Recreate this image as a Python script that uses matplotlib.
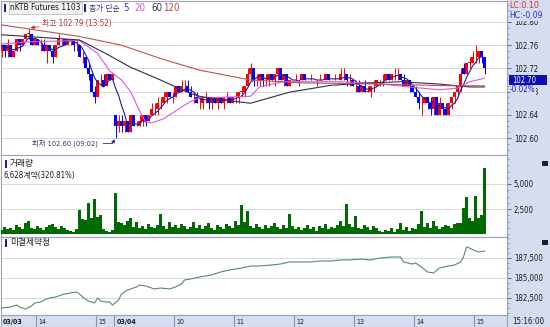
import matplotlib
matplotlib.use("Agg")
import matplotlib.pyplot as plt
from matplotlib import font_manager
from matplotlib.font_manager import FontProperties
from matplotlib.patches import Rectangle
from matplotlib.ticker import AutoMinorLocator
from matplotlib.transforms import blended_transform_factory
import numpy as np
import pandas as pd

W, H = 550, 327

# prices in hundredths above 102.00 (76 -> 102.76), one row of 10 bars per line
# 3-minute bars: 03/03 13:24-15:15 (0-37), 03/04 09:00-15:09 (38-161)
opens = [75, 76, 75, 76, 74, 75, 77, 76, 77, 78,
         78, 76, 77, 76, 76, 75, 76, 75, 74, 76,
         77, 77, 76, 77, 77, 76, 76, 74, 74, 72,
         71, 68, 67, 70, 70, 69, 71, 70, 64, 62,
         63, 62, 63, 61, 64, 62, 62, 63, 64, 63,
         64, 65, 65, 66, 66, 67, 68, 67, 67, 69,
         68, 69, 69, 68, 67, 67, 66, 66, 67, 67,
         66, 67, 66, 67, 66, 67, 67, 66, 67, 67,
         68, 68, 69, 71, 72, 70, 70, 71, 70, 70,
         71, 70, 71, 72, 70, 71, 69, 70, 70, 70,
         70, 71, 70, 70, 70, 70, 70, 70, 70, 71,
         70, 70, 70, 70, 71, 71, 70, 70, 69, 69,
         68, 69, 68, 68, 69, 69, 70, 70, 70, 71,
         70, 71, 71, 71, 70, 69, 70, 69, 68, 67,
         66, 66, 67, 66, 65, 67, 64, 66, 65, 64,
         66, 67, 68, 69, 72, 71, 73, 73, 74, 74,
         75, 74]
highs = [76, 76, 77, 76, 75, 77, 77, 77, 78, 79,
         78, 77, 77, 77, 77, 76, 76, 76, 76, 78,
         77, 77, 77, 77, 77, 77, 76, 75, 74, 73,
         71, 69, 70, 71, 71, 71, 71, 71, 64, 64,
         64, 63, 63, 64, 64, 63, 64, 64, 64, 64,
         66, 66, 67, 67, 68, 68, 68, 68, 69, 69,
         70, 70, 70, 69, 68, 68, 67, 67, 68, 67,
         67, 67, 67, 67, 67, 68, 67, 67, 68, 68,
         69, 69, 72, 73, 72, 71, 71, 71, 71, 71,
         71, 71, 72, 72, 71, 71, 70, 70, 71, 70,
         71, 71, 70, 71, 70, 70, 71, 70, 71, 71,
         70, 71, 70, 72, 72, 71, 71, 70, 70, 70,
         69, 70, 69, 69, 70, 70, 70, 71, 71, 71,
         71, 72, 72, 71, 71, 70, 70, 69, 69, 68,
         67, 67, 67, 67, 67, 67, 67, 66, 66, 66,
         67, 68, 69, 72, 73, 73, 74, 75, 76, 75,
         75, 74]
lows = [74, 74, 74, 74, 74, 75, 75, 76, 77, 77,
        76, 76, 76, 75, 75, 73, 75, 73, 74, 76,
        76, 76, 76, 76, 75, 75, 74, 73, 72, 70,
        68, 66, 67, 69, 69, 69, 70, 70, 60, 61,
        61, 61, 61, 61, 62, 62, 62, 62, 62, 63,
        64, 64, 64, 65, 66, 66, 67, 66, 67, 68,
        68, 68, 68, 67, 66, 66, 65, 65, 66, 65,
        65, 66, 65, 66, 65, 66, 66, 66, 66, 66,
        67, 67, 69, 70, 69, 69, 69, 69, 69, 69,
        70, 69, 70, 70, 69, 69, 69, 70, 70, 69,
        70, 70, 70, 70, 70, 69, 70, 70, 70, 70,
        70, 70, 70, 70, 70, 69, 69, 69, 68, 68,
        68, 68, 68, 67, 68, 69, 69, 69, 70, 70,
        70, 70, 70, 70, 69, 69, 68, 68, 67, 65,
        64, 66, 65, 64, 64, 64, 64, 64, 64, 64,
        65, 66, 67, 68, 71, 71, 72, 73, 73, 73,
        73, 71]
closes = [76, 75, 76, 74, 75, 77, 76, 77, 78, 78,
          76, 77, 76, 76, 75, 76, 75, 74, 76, 77,
          77, 76, 77, 77, 76, 76, 74, 74, 72, 71,
          68, 67, 70, 70, 69, 71, 70, 71, 62, 63,
          62, 63, 61, 64, 62, 62, 63, 64, 63, 64,
          65, 65, 66, 66, 67, 68, 67, 67, 69, 68,
          69, 69, 68, 67, 67, 66, 66, 67, 67, 66,
          67, 66, 67, 66, 67, 67, 66, 67, 67, 68,
          68, 69, 71, 72, 70, 70, 71, 70, 70, 71,
          70, 71, 72, 70, 71, 69, 70, 70, 70, 70,
          71, 70, 70, 70, 70, 70, 70, 70, 71, 70,
          70, 70, 70, 71, 71, 70, 70, 69, 69, 68,
          69, 68, 68, 69, 69, 70, 70, 70, 71, 70,
          71, 71, 71, 70, 69, 70, 69, 68, 67, 66,
          66, 67, 66, 65, 67, 64, 66, 65, 64, 66,
          67, 68, 69, 71, 71, 73, 73, 74, 74, 75,
          74, 72]
volumes = [400, 700, 500, 600, 400, 900, 700, 500, 1100, 1300,
           600, 500, 800, 600, 400, 700, 900, 1000, 700, 500,
           800, 600, 400, 300, 200, 500, 2400, 1500, 1400, 3100,
           1600, 3500, 1700, 1900, 500, 300, 200, 400, 4100, 1200,
           1100, 900, 1300, 1600, 700, 1200, 600, 800, 500, 1000,
           700, 600, 900, 2000, 800, 500, 1200, 700, 900, 600,
           1000, 800, 500, 700, 1200, 600, 900, 500, 800, 1100,
           600, 400, 900, 700, 500, 1000, 800, 600, 1300, 900,
           2900, 1200, 2300, 800, 600, 1000, 700, 500, 900, 600,
           800, 1100, 700, 500, 900, 600, 2000, 800, 500, 700,
           400, 600, 900, 500, 700, 300, 800, 600, 1000, 500,
           700, 600, 900, 1300, 800, 3000, 1000, 700, 1800, 600,
           500, 900, 700, 400, 800, 600, 300, 200, 400, 300,
           600, 200, 500, 1100, 400, 700, 300, 600, 500, 1000,
           2300, 700, 1100, 600, 1300, 800, 500, 700, 900, 800,
           600, 1000, 1150, 1150, 2600, 3700, 1600, 1300, 3800, 1600,
           1900, 6628]

# moving averages at (bar, price)
ma20_bar = [0, 10, 26, 32, 36, 40, 43, 46, 48, 50, 54, 62, 66, 73, 83, 86, 94, 113, 123, 136, 146, 152, 156, 161]
ma20_val = [102.762, 102.766, 102.768, 102.746, 102.716, 102.700, 102.680, 102.647, 102.628, 102.626, 102.633,
            102.660, 102.670, 102.670, 102.672, 102.688, 102.697, 102.697, 102.695, 102.688, 102.683, 102.686,
            102.697, 102.703]
ma60_bar = [0, 26, 35, 43, 53, 62, 66, 73, 83, 96, 110, 123, 133, 146, 156, 161]
ma60_val = [102.778, 102.769, 102.745, 102.722, 102.700, 102.679, 102.672, 102.666, 102.660, 102.679, 102.691,
            102.695, 102.697, 102.693, 102.688, 102.688]
ma120_bar = [0, 13, 26, 40, 53, 66, 83, 100, 116, 133, 150, 161]
ma120_val = [102.795, 102.785, 102.775, 102.760, 102.737, 102.717, 102.700, 102.695, 102.694, 102.692, 102.690,
             102.690]

# open interest at (bar, contracts)
oi_bar = [0, 3, 5, 6, 8, 10, 11, 13, 15, 16, 18, 20, 21, 23, 25, 26, 27, 29, 31, 32, 33, 35, 36, 37,
          39, 40, 42, 45, 46, 48, 50, 51, 53, 56, 58, 60, 61, 63, 66, 70, 73, 76, 80, 83, 86, 90, 93,
          96, 100, 103, 106, 110, 113, 116, 120, 123, 126, 130, 133, 134, 137, 138, 140, 142, 144, 146,
          149, 151, 153, 154, 155, 156, 158, 159, 161]
oi_val = [181250, 181375, 181625, 181375, 181125, 181500, 181875, 182000, 182375, 182500, 182625, 182875,
          183000, 183125, 183250, 183000, 182625, 182125, 181875, 182500, 182125, 182000, 182000, 181625,
          182250, 183000, 183500, 183875, 184125, 184000, 183750, 183625, 183750, 183625, 183875, 184250,
          184750, 184875, 185125, 185375, 185750, 186000, 186250, 186500, 186500, 186625, 186750, 187000,
          187000, 187000, 187125, 187125, 187250, 187250, 187375, 187250, 187500, 187625, 187625, 187000,
          186750, 186875, 186375, 185750, 185625, 186250, 186500, 186625, 187000, 187625, 188875, 188750,
          188375, 188250, 188375]

# hour ticks: (bar, label, bold)
tick_bar = [0, 12, 32, 38, 58, 78, 98, 118, 138, 158]
tick_lbl = ["03/03", "14", "15", "03/04", "10", "11", "12", "13", "14", "15"]
tick_bold = [True, False, False, True, False, False, False, False, False, False]

price_ticks = [102.60, 102.64, 102.68, 102.72, 102.76, 102.80]
vol_ticks = [2500, 5000]
oi_ticks = [182500, 185000, 187500]
current_price = 102.70

# pick a narrow latin face if one is installed (the HTS font is condensed)
narrow = None
for f in font_manager.fontManager.ttflist:
    nm = f.name
    if 'Mono' in nm or 'Serif' in nm or f.style != 'normal' or f.weight not in (400, 'normal', 'regular'):
        continue
    if 'Narrow' in nm or 'Condensed' in nm or f.stretch in ('condensed', 'semi-condensed'):
        rank = 0 if 'Liberation Sans Narrow' in nm else (1 if 'DejaVu' in nm else 2)
        if narrow is None or rank < narrow[0]:
            narrow = (rank, nm, f.stretch)
if narrow:
    BASE_NAME, STRETCH = narrow[1], narrow[2]
else:
    BASE_NAME, STRETCH = 'Liberation Sans', 'normal'
FAM = [BASE_NAME, 'Noto Sans CJK KR', 'DejaVu Sans']
plt.rcParams['font.family'] = FAM
plt.rcParams['font.stretch'] = STRETCH
FS = 7 if narrow else 6.3

o = 102 + np.array(opens) / 100
h = 102 + np.array(highs) / 100
l = 102 + np.array(lows) / 100
c = 102 + np.array(closes) / 100
x = np.arange(len(c))

UP, DN = '#ff0000', '#0000ff'
GRID = '#d4d4d4'
BAND = '#d5ddf0'
EDGE = '#9ba3b8'
TXT = '#1a1a1a'


def fx(px):
    return px / W


def fy(py):
    return 1 - py / H


fig = plt.figure(figsize=(W / 100, H / 100), dpi=100)
fig.patch.set_facecolor('white')
fig.patches.append(Rectangle((fx(507), 0), 1 - fx(507), 1, transform=fig.transFigure,
                             facecolor=BAND, edgecolor='none', zorder=-5))
renderer = fig.canvas.get_renderer()


def fitsize(s, width_px, size=FS, bold=False):
    prop = FontProperties(family=FAM, stretch=STRETCH, size=size,
                          weight='bold' if bold else 'normal')
    w, _, _ = renderer.get_text_width_height_descent(s, prop, ismath=False)
    return min(size, size * width_px / w)


L, R = 1, 507
ax1 = fig.add_axes([fx(L), fy(155), (R - L) / W, 154 / H])
ax2 = fig.add_axes([fx(L), fy(237), (R - L) / W, 82 / H], sharex=ax1)
ax3 = fig.add_axes([fx(L), fy(315), (R - L) / W, 78 / H], sharex=ax1)
axb = fig.add_axes([fx(L), 0, (R - L) / W, 12 / H], sharex=ax1)

ax1.set_xlim(-0.17, 168.5)
ax1.set_ylim(102.5707, 102.8362)
ax2.set_ylim(-300, 7900)
ax3.set_ylim(180375, 190125)

tick_fs = fitsize("187,500", 29)
grid_x = [b - 0.5 for b in tick_bar[1:]]
for ax, ticks in ((ax1, price_ticks), (ax2, vol_ticks), (ax3, oi_ticks)):
    ax.set_yticks(ticks)
    ax.yaxis.tick_right()
    ax.yaxis.set_minor_locator(AutoMinorLocator(4))
    ax.tick_params(axis='y', which='major', direction='out', length=3, width=0.6, pad=2,
                   labelsize=tick_fs, colors='#505050', labelcolor=TXT)
    ax.tick_params(axis='y', which='minor', direction='out', length=1.5, width=0.5, colors='#707070')
    ax.set_xticks(grid_x)
    ax.tick_params(axis='x', length=0, labelbottom=False)
    ax.grid(True, which='major', color=GRID, lw=0.6)
    ax.set_axisbelow(True)
    for s in ax.spines.values():
        s.set_color(EDGE)
        s.set_linewidth(0.8)

ax1.set_yticklabels([f"{t:.2f}" for t in price_ticks])
ax2.set_yticklabels([f"{t:,}" for t in vol_ticks])
ax3.set_yticklabels([f"{t:,}" for t in oi_ticks])

# candles
up = c >= o
col = np.where(up, UP, DN)
ax1.vlines(x, l, h, colors=col, lw=0.7, zorder=3)
body = np.maximum(np.abs(c - o), 0.0004)
ax1.bar(x, body, bottom=np.minimum(o, c), width=0.75, color=col, lw=0, zorder=3)

ma5 = pd.Series(c).rolling(5, min_periods=1).mean()
ax1.plot(x, ma5, color='#1c1ca0', lw=0.8, zorder=4)
ax1.plot(ma20_bar, ma20_val, color='#d85ad8', lw=0.8, zorder=4)
ax1.plot(ma60_bar, ma60_val, color='#2e3050', lw=0.8, zorder=4)
ax1.plot(ma120_bar, ma120_val, color='#c05050', lw=0.8, zorder=4)

i_hi = int(np.argmax(h))
i_lo = int(np.argmin(l))
s_hi = "최고 102.79 (13:52)"
s_lo = "최저 102.60 (09:02)"
ax1.annotate(s_hi, xy=(i_hi + 0.2, h[i_hi]), xytext=(9, 3),
             textcoords='offset points', ha='left', va='center', fontsize=fitsize(s_hi, 69),
             color='#b83030',
             arrowprops=dict(arrowstyle='-|>', color='#b83030', lw=0.6, mutation_scale=5,
                             shrinkA=0, shrinkB=1))
ax1.annotate(s_lo, xy=(i_lo, l[i_lo]), xytext=(-13, -4),
             textcoords='offset points', ha='right', va='center', fontsize=fitsize(s_lo, 65),
             color='#303070',
             arrowprops=dict(arrowstyle='-|>', color='#303070', lw=0.6, mutation_scale=5,
                             shrinkA=2, shrinkB=1,
                             connectionstyle='angle,angleA=0,angleB=60,rad=0'))

# current price tag in the right scale
tr = blended_transform_factory(ax1.transAxes, ax1.transData)
ax1.add_patch(Rectangle((1 + 2 / 506, current_price - 5 / 580), 38 / 506, 10 / 580, transform=tr,
                        clip_on=False, facecolor='#0c0cb8', edgecolor='none', zorder=8))
ax1.text(1 + 5 / 506, current_price, f"{current_price:.2f}", transform=tr, clip_on=False,
         color='white', ha='left', va='center', fontsize=fitsize("102.70", 24), zorder=9)

# volume
ax2.bar(x, volumes, width=0.8, color='#006a00', lw=0, zorder=3)

# open interest
ax3.plot(oi_bar, oi_val, color='#5a8868', lw=0.8, zorder=3)

# bottom time band
axb.set_facecolor(BAND)
axb.set_ylim(0, 1)
axb.set_xticks([])
axb.set_yticks([])
for s in axb.spines.values():
    s.set_color(EDGE)
    s.set_linewidth(0.8)
band_fs = fitsize("03/04", 20, bold=True)
for b, lab, bold in zip(tick_bar, tick_lbl, tick_bold):
    if b > 0:
        axb.axvline(b - 0.5, color='#8a94b0', lw=0.8)
    axb.text(b + 0.4, 0.45, lab, fontsize=band_fs, color=TXT, va='center', ha='left',
             fontweight='bold' if bold else 'normal')


# panel titles
def marker(px, py, color='#1c1ca0'):
    fig.patches.append(Rectangle((fx(px), fy(py + 8)), 2 / W, 8 / H, transform=fig.transFigure,
                                 facecolor=color, edgecolor='none', zorder=5))


def ftext(px, py, s, width=None, **kw):
    kw.setdefault('fontsize', FS if width is None else fitsize(s, width))
    kw.setdefault('color', TXT)
    return fig.text(fx(px), fy(py), s, ha='left', va='center', **kw)


marker(4, 4)
ftext(10, 8, "nKTB Futures 1103", width=71,
      bbox=dict(boxstyle='square,pad=0.15', facecolor='#f2f2f2', edgecolor='#c0c0c0', lw=0.6))
marker(84, 4)
ftext(89, 8, "종가 단순", width=31, color='#303078')
ftext(123, 8, "5", color='#3030c0')
ftext(134, 8, "20", color='#e050e0')
ftext(151, 8, "60", color='#303050')
ftext(163, 8, "120", color='#c04848')

marker(5, 160)
ftext(10, 164, "거래량", width=24)
ftext(4, 175, "6,628계약(320.81%)", width=72)
marker(5, 239)
ftext(10, 243, "미결제약정", width=40)

for py in (161, 240):
    fig.patches.append(Rectangle((fx(542), fy(py + 5)), 6 / W, 5 / H, transform=fig.transFigure,
                                 facecolor='#202020', edgecolor='none', zorder=5))

# right-side status labels
ftext(509, 6, "LC:0.10", width=30, color='#e03030')
ftext(509, 16, "HC:-0.09", width=34, color='#3030c0',
      bbox=dict(boxstyle='square,pad=0.05', facecolor=BAND, edgecolor='none'))
ftext(510, 90, "-0.02%", width=26, color='#2020c0',
      bbox=dict(boxstyle='square,pad=0.05', facecolor=BAND, edgecolor='none'))
ftext(512, 321, "15:16:00", width=32)

fig.savefig("out.png", dpi=100)
